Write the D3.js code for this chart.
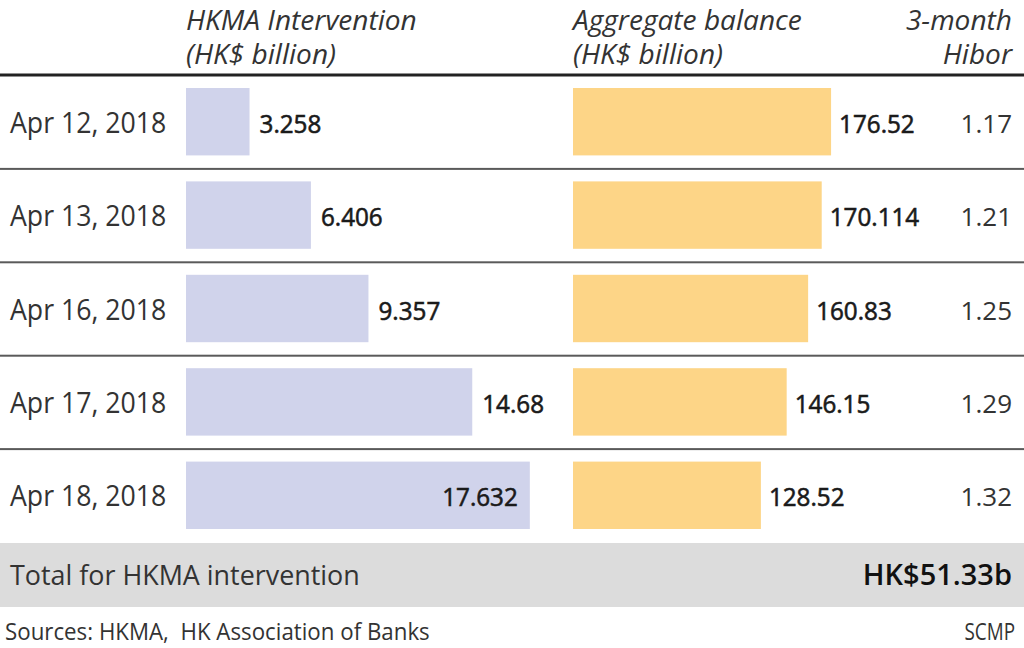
<!DOCTYPE html>
<html lang="en">
<head>
<meta charset="UTF-8">
<title>HKMA intervention</title>
<script src="https://d3js.org/d3.v7.min.js"></script>
<style>
  body { margin: 0; background: #fff; }
  svg { display: block; font-family: "Open Sans", sans-serif; }
</style>
</head>
<body>
<svg></svg>
<script>
const dates = ["Apr 12, 2018", "Apr 13, 2018", "Apr 16, 2018", "Apr 17, 2018", "Apr 18, 2018"];
const intervention = [3.258, 6.406, 9.357, 14.68, 17.632];
const aggregate = [176.52, 170.114, 160.83, 146.15, 128.52];
const hibor = ["1.17", "1.21", "1.25", "1.29", "1.32"];
const totalLabel = "Total for HKMA intervention";
const totalValue = "HK$51.33b";

const width = 1024, height = 648;
const svg = d3.select("svg").attr("width", width).attr("height", height);

const rows = d3.scaleBand().domain(dates).range([76, 543]);
const xInt = d3.scaleLinear().domain([0, 20]).range([186, 576]);
const xAgg = d3.scaleLinear().domain([0, 200]).range([573, 865.4]);

// text helper: squeezes horizontally to mimic the narrow house font
function label(x, y, str, opts) {
  const o = Object.assign({size: 26, sx: 1, anchor: "start", weight: 400, style: "normal", fill: "#222", stroke: 0}, opts);
  const t = svg.append("text")
    .attr("transform", `translate(${x},${y}) scale(${o.sx},1)`)
    .attr("text-anchor", o.anchor)
    .attr("font-size", o.size)
    .attr("font-weight", o.weight)
    .attr("font-style", o.style)
    .attr("fill", o.fill)
    .text(str);
  if (o.stroke) t.attr("stroke", o.fill).attr("stroke-width", o.stroke);
  return t;
}

// headers
const hd = {size: 27, sx: 1.04, style: "italic", fill: "#333"};
label(186, 30, "HKMA Intervention", hd);
label(186, 64, "(HK$ billion)", hd);
label(573, 30, "Aggregate balance", hd);
label(573, 64, "(HK$ billion)", hd);
label(1012, 30, "3-month", Object.assign({}, hd, {anchor: "end"}));
label(1012, 64, "Hibor", Object.assign({}, hd, {anchor: "end"}));

svg.append("rect").attr("x", 0).attr("y", 73.5).attr("width", width).attr("height", 3).attr("fill", "#222");

// row separators
svg.selectAll("rect.sep")
  .data(dates.slice(1))
  .join("rect")
  .attr("class", "sep")
  .attr("x", 0).attr("width", width)
  .attr("y", d => rows(d) - 1.5).attr("height", 2)
  .attr("fill", "#5a5a5a");

const rowData = dates.map((d, i) => ({date: d, iv: intervention[i], ag: aggregate[i], hb: hibor[i]}));

// bars
svg.selectAll("rect.iv")
  .data(rowData)
  .join("rect")
  .attr("class", "iv")
  .attr("x", xInt(0))
  .attr("y", d => rows(d.date) + 12)
  .attr("width", d => xInt(d.iv) - xInt(0))
  .attr("height", rows.bandwidth() - 26)
  .attr("fill", "#d0d3eb");

svg.selectAll("rect.ag")
  .data(rowData)
  .join("rect")
  .attr("class", "ag")
  .attr("x", xAgg(0))
  .attr("y", d => rows(d.date) + 12)
  .attr("width", d => xAgg(d.ag) - xAgg(0))
  .attr("height", rows.bandwidth() - 26)
  .attr("fill", "#fdd587");

rowData.forEach(d => {
  const cy = rows(d.date) + rows.bandwidth() / 2 + 10;
  label(10, cy, d.date, {size: 29, sx: 0.92, fill: "#333"});

  const numOpts = {size: 25, weight: 400, fill: "#1a1a1a", sx: 0.97, stroke: 0.6};
  const t = label(xInt(d.iv) + 10, cy, d.iv, numOpts);
  const w = t.node().getComputedTextLength() * numOpts.sx;
  if (xInt(d.iv) + 10 + w > xAgg(0) - 15) {
    t.attr("transform", `translate(${xInt(d.iv) - 12},${cy}) scale(${numOpts.sx},1)`).attr("text-anchor", "end");
  }
  label(xAgg(d.ag) + 8, cy, d.ag, numOpts);
  label(1012, cy, d.hb, {size: 26, sx: 1, fill: "#333", anchor: "end"});
});

// total band
svg.append("rect").attr("x", 0).attr("y", 543).attr("width", width).attr("height", 64).attr("fill", "#dcdcdc");
label(10, 585, totalLabel, {size: 28, sx: 0.96, fill: "#333"});
label(1012, 585, totalValue, {size: 29, sx: 1, weight: 600, fill: "#111", anchor: "end"});

// footer
label(5, 640, "Sources: HKMA,\u00a0 HK Association of Banks", {size: 23, sx: 0.97, fill: "#333"});
label(1015, 640, "SCMP", {size: 23, sx: 0.82, fill: "#333", anchor: "end"});
</script>
</body>
</html>
